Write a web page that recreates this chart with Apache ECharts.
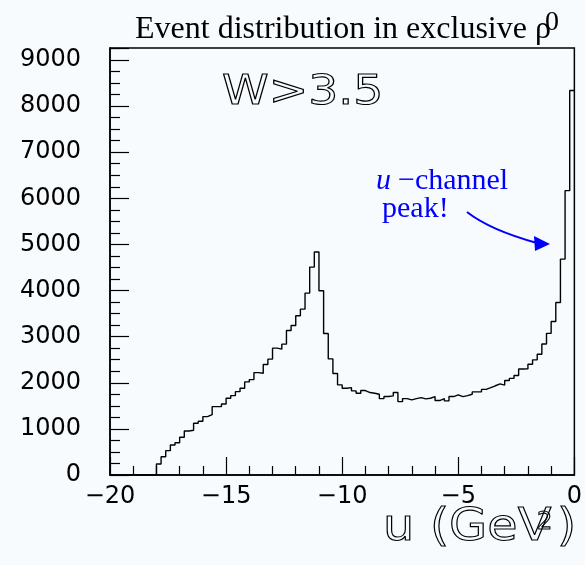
<!DOCTYPE html>
<html>
<head>
<meta charset="utf-8">
<script src="https://cdn.jsdelivr.net/npm/echarts@6/dist/echarts.min.js"></script>
<style>
html,body{margin:0;padding:0;background:#f8fbfe;}
#chart{width:585px;height:565px;}
</style>
</head>
<body>
<div id="chart"></div>
<script>
// Histogram: 100 bins of width 0.2 GeV^2 from u = -20 to 0
var binStart = -20;
var binWidth = 0.2;
var counts = [
  0, 0, 0, 0, 0, 0, 0, 0, 0, 0,
  239, 397, 528, 651, 701, 818, 955, 970, 1122, 1166,
  1266, 1309, 1483, 1483, 1541, 1665, 1722, 1808, 1882, 2019,
  2069, 2221, 2208, 2395, 2512, 2751, 2729, 2838, 3133, 3241,
  3452, 3597, 3945, 4509, 4835, 3995, 3068, 2518, 2200, 1954,
  1882, 1896, 1824, 1773, 1831, 1788, 1773, 1751, 1657, 1701,
  1715, 1788, 1592, 1657, 1628, 1657, 1679, 1650, 1664, 1701,
  1614, 1657, 1607, 1701, 1737, 1701, 1722, 1751, 1802, 1802,
  1856, 1893, 1935, 1976, 1950, 2048, 2095, 2157, 2298, 2301,
  2403, 2497, 2620, 2840, 3072, 3329, 3741, 4682, 6166, 8337
];
var xTickValues = [-20, -15, -10, -5, 0];
var xTickLabels = ['\u221220', '\u221215', '\u221210', '\u22125', '0'];
var yTickValues = [0, 1000, 2000, 3000, 4000, 5000, 6000, 7000, 8000, 9000];
var yTickLabels = ['0', '1000', '2000', '3000', '4000', '5000', '6000', '7000', '8000', '9000'];
var titleText = 'Event distribution in exclusive \u03c1';
var titleSup = '0';
var cutText = 'W>3.5';
var xTitleMain = 'u (GeV';
var xTitleSup = '2';
var xTitleEnd = ')';

var histData = counts.map(function (c, i) { return [binStart + i * binWidth, c]; });
histData.push([binStart + counts.length * binWidth, counts[counts.length - 1]]);

var chart = echarts.init(document.getElementById('chart'), null, {renderer: 'canvas'});
var labelFont = {fontFamily: 'DejaVu Sans', fontSize: 24, color: '#000'};
var hollow = {fill: 'rgba(0,0,0,0)', stroke: '#000', lineWidth: 1.1};

var option = {
  backgroundColor: '#f8fbfe',
  animation: false,
  grid: {left: 110, right: 10, top: 48, bottom: 90, show: true, borderColor: '#000', borderWidth: 1.5, backgroundColor: 'transparent'},
  xAxis: [{
    type: 'value', min: -20, max: 0, interval: 5,
    axisLine: {show: true, onZero: false, lineStyle: {color: '#000', width: 1.5}},
    axisTick: {show: true, inside: true, length: 18, lineStyle: {color: '#000', width: 1.2}},
    minorTick: {show: true, splitNumber: 5, length: 9, lineStyle: {color: '#000', width: 1.2}},
    splitLine: {show: false},
    axisLabel: Object.assign({margin: 10, formatter: function (v) {
      var k = xTickValues.indexOf(v); return k >= 0 ? xTickLabels[k] : '';
    }}, labelFont)
  }],
  yAxis: [{
    type: 'value', min: 0, max: 9260, interval: 1000,
    axisLine: {show: true, onZero: false, lineStyle: {color: '#000', width: 1.5}},
    axisTick: {show: true, inside: true, length: 19, lineStyle: {color: '#000', width: 1.2}},
    minorTick: {show: true, splitNumber: 4, length: 10, lineStyle: {color: '#000', width: 1.2}},
    splitLine: {show: false},
    axisLabel: Object.assign({margin: 29, formatter: function (v) {
      var k = yTickValues.indexOf(v); return k >= 0 ? yTickLabels[k] : '';
    }}, labelFont)
  }],
  series: [{
    type: 'line', step: 'end', xAxisIndex: 0, yAxisIndex: 0,
    data: histData, symbol: 'none', silent: true,
    lineStyle: {color: '#000', width: 1.4}
  }],
  graphic: [
    {type: 'text', left: 135, top: 14, style: {text: titleText, font: '32px "Liberation Serif"', fill: '#000'}},
    {type: 'text', left: 545, top: 9, style: {text: titleSup, font: '28px "Liberation Serif"', fill: '#000'}},
    {type: 'text', x: 222, y: 74, scaleX: 1.18, style: Object.assign({text: cutText, font: '40px "DejaVu Sans"'}, hollow)},
    {type: 'text', left: 376, top: 166, style: {text: 'u', font: 'italic 30px "Liberation Serif"', fill: '#0000ff'}},
    {type: 'text', left: 398, top: 166, style: {text: '\u2212channel', font: '30px "Liberation Serif"', fill: '#0000ff'}},
    {type: 'text', left: 382, top: 194, style: {text: 'peak!', font: '30px "Liberation Serif"', fill: '#0000ff'}},
    {type: 'bezierCurve', shape: {x1: 467, y1: 212, cpx1: 490, cpy1: 230, x2: 537, y2: 243}, style: {stroke: '#0000ff', lineWidth: 2, fill: null}},
    {type: 'polygon', shape: {points: [[550, 244], [534, 236], [535, 251]]}, style: {fill: '#0000ff'}},
    {type: 'text', x: 383, y: 507, scaleX: 1.12, style: Object.assign({text: xTitleMain, font: '44px "DejaVu Sans"'}, hollow)},
    {type: 'text', x: 537, y: 511, style: Object.assign({text: xTitleSup, font: '24px "DejaVu Sans"'}, hollow)},
    {type: 'text', x: 557, y: 507, scaleX: 1.12, style: Object.assign({text: xTitleEnd, font: '44px "DejaVu Sans"'}, hollow)}
  ]
};
chart.setOption(option);
</script>
</body>
</html>
